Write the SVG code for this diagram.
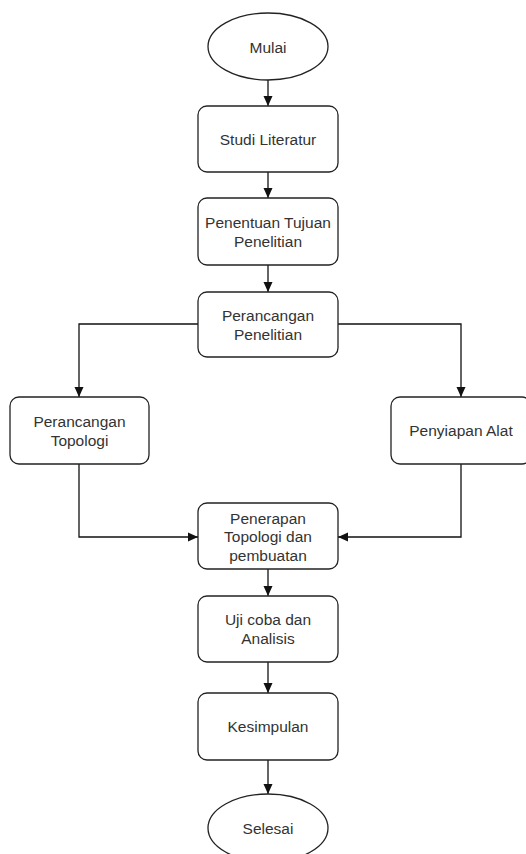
<svg xmlns="http://www.w3.org/2000/svg" width="526" height="854" viewBox="0 0 526 854">
<style>
.n{fill:#fff;stroke:#222;stroke-width:1.3}
.t{font-family:"Liberation Sans",Arial,sans-serif;font-size:15.5px;fill:#333;text-anchor:middle}
.c{fill:none;stroke:#111;stroke-width:1.3}
</style>
<defs>
<marker id="a" viewBox="0 0 10 10" refX="10" refY="5" markerWidth="10" markerHeight="10" markerUnits="userSpaceOnUse" orient="auto">
<path d="M0,0.5 L10,5 L0,9.5 Z" fill="#111"/>
</marker>
</defs>
<rect width="526" height="854" fill="#fff"/>
<g id="connectors">
<path class="c" d="M268,80 V106" marker-end="url(#a)"/>
<path class="c" d="M268,172 V198" marker-end="url(#a)"/>
<path class="c" d="M268,265 V292" marker-end="url(#a)"/>
<path class="c" d="M198,324 H79 V397" marker-end="url(#a)"/>
<path class="c" d="M338,324 H461 V397" marker-end="url(#a)"/>
<path class="c" d="M79,464 V537 H198" marker-end="url(#a)"/>
<path class="c" d="M461,464 V537 H338" marker-end="url(#a)"/>
<path class="c" d="M268,569 V596" marker-end="url(#a)"/>
<path class="c" d="M268,662 V693" marker-end="url(#a)"/>
<path class="c" d="M268,760 V794" marker-end="url(#a)"/>
</g>
<g id="mulai">
<ellipse class="n" cx="268" cy="46.5" rx="60" ry="33.5"/>
<text class="t" x="268" y="53">Mulai</text>
</g>
<g id="studi">
<rect class="n" x="198" y="106" width="140" height="66" rx="9"/>
<text class="t" x="268" y="145">Studi Literatur</text>
</g>
<g id="penentuan">
<rect class="n" x="198" y="198" width="140" height="67" rx="9"/>
<text class="t" x="268" y="228">Penentuan Tujuan</text>
<text class="t" x="268" y="246.5">Penelitian</text>
</g>
<g id="perancangan-penelitian">
<rect class="n" x="198" y="292" width="140" height="65" rx="9"/>
<text class="t" x="268" y="321">Perancangan</text>
<text class="t" x="268" y="339.5">Penelitian</text>
</g>
<g id="perancangan-topologi">
<rect class="n" x="10" y="397" width="139" height="67" rx="9"/>
<text class="t" x="79.5" y="427">Perancangan</text>
<text class="t" x="79.5" y="445.5">Topologi</text>
</g>
<g id="penyiapan">
<rect class="n" x="391" y="397" width="140" height="67" rx="9"/>
<text class="t" x="461" y="436">Penyiapan Alat</text>
</g>
<g id="penerapan">
<rect class="n" x="198" y="503" width="140" height="66" rx="9"/>
<text class="t" x="268" y="523.5">Penerapan</text>
<text class="t" x="268" y="542">Topologi dan</text>
<text class="t" x="268" y="560.5">pembuatan</text>
</g>
<g id="uji">
<rect class="n" x="198" y="596" width="140" height="66" rx="9"/>
<text class="t" x="268" y="625">Uji coba dan</text>
<text class="t" x="268" y="643.5">Analisis</text>
</g>
<g id="kesimpulan">
<rect class="n" x="198" y="693" width="140" height="67" rx="9"/>
<text class="t" x="268" y="732">Kesimpulan</text>
</g>
<g id="selesai">
<ellipse class="n" cx="268" cy="828" rx="60" ry="34"/>
<text class="t" x="268" y="834">Selesai</text>
</g>
</svg>
